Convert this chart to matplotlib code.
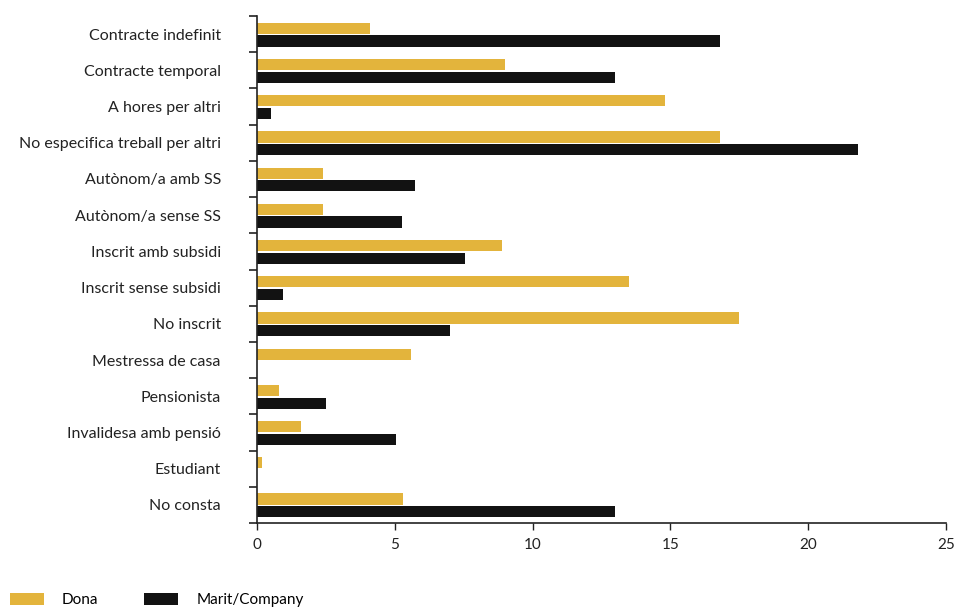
import matplotlib
matplotlib.use("Agg")
import matplotlib.pyplot as plt
import numpy as np

categories = ["Contracte indefinit", "Contracte temporal", "A hores per altri",
              "No especifica treball per altri", "Autònom/a amb SS", "Autònom/a sense SS",
              "Inscrit amb subsidi", "Inscrit sense subsidi", "No inscrit",
              "Mestressa de casa", "Pensionista", "Invalidesa amb pensió",
              "Estudiant", "No consta"]
dona = [4.1, 9.0, 14.8, 16.8, 2.4, 2.4, 8.9, 13.5, 17.5, 5.6, 0.8, 1.6, 0.2, 5.3]
marit = [16.8, 13.0, 0.5, 21.8, 5.75, 5.25, 7.55, 0.95, 7.0, 0.0, 2.5, 5.05, 0.0, 13.0]
series_names = ["Dona", "Marit/Company"]
xticks = [0, 5, 10, 15, 20, 25]

gold = "#E3B43C"
black = "#121212"

plt.rcParams['font.family'] = ['Lato', 'DejaVu Sans']

fig = plt.figure(figsize=(9.55, 6.07), dpi=100)
ax = fig.add_axes([0.269, 0.1384, 0.7216, 0.8352])

y = np.arange(len(categories))
h = 0.31
ax.barh(y - 0.16, dona, height=h, color=gold, label=series_names[0])
ax.barh(y + 0.19, marit, height=h, color=black, label=series_names[1])

ax.set_ylim(len(categories) - 0.5, -0.5)
ax.set_xlim(0, 25)
ax.set_xticks(xticks)
ax.set_xticklabels([str(t) for t in xticks], fontsize=11, color="#222222")
ax.set_yticks(y)
ax.set_yticklabels(categories, fontsize=11.5, color="#222222")
ax.tick_params(axis='y', length=0, pad=26)
ax.set_yticks(np.arange(-0.5, len(categories) + 0.5, 1), minor=True)
ax.tick_params(axis='y', which='minor', length=6, width=1.2, color="#222222")
ax.tick_params(axis='x', length=5, width=1.0, color="#222222", pad=6)

for s in ['top', 'right']:
    ax.spines[s].set_visible(False)
for s in ['left', 'bottom']:
    ax.spines[s].set_color("#222222")
    ax.spines[s].set_linewidth(1.2)

fig.legend(loc='lower left', bbox_to_anchor=(0.008, -0.004), ncol=2, frameon=False,
           fontsize=11, handlelength=2.2, handleheight=0.9, columnspacing=3.0,
           handletextpad=1.2, borderaxespad=0.0, borderpad=0.15)

fig.savefig("out.png", dpi=100)
